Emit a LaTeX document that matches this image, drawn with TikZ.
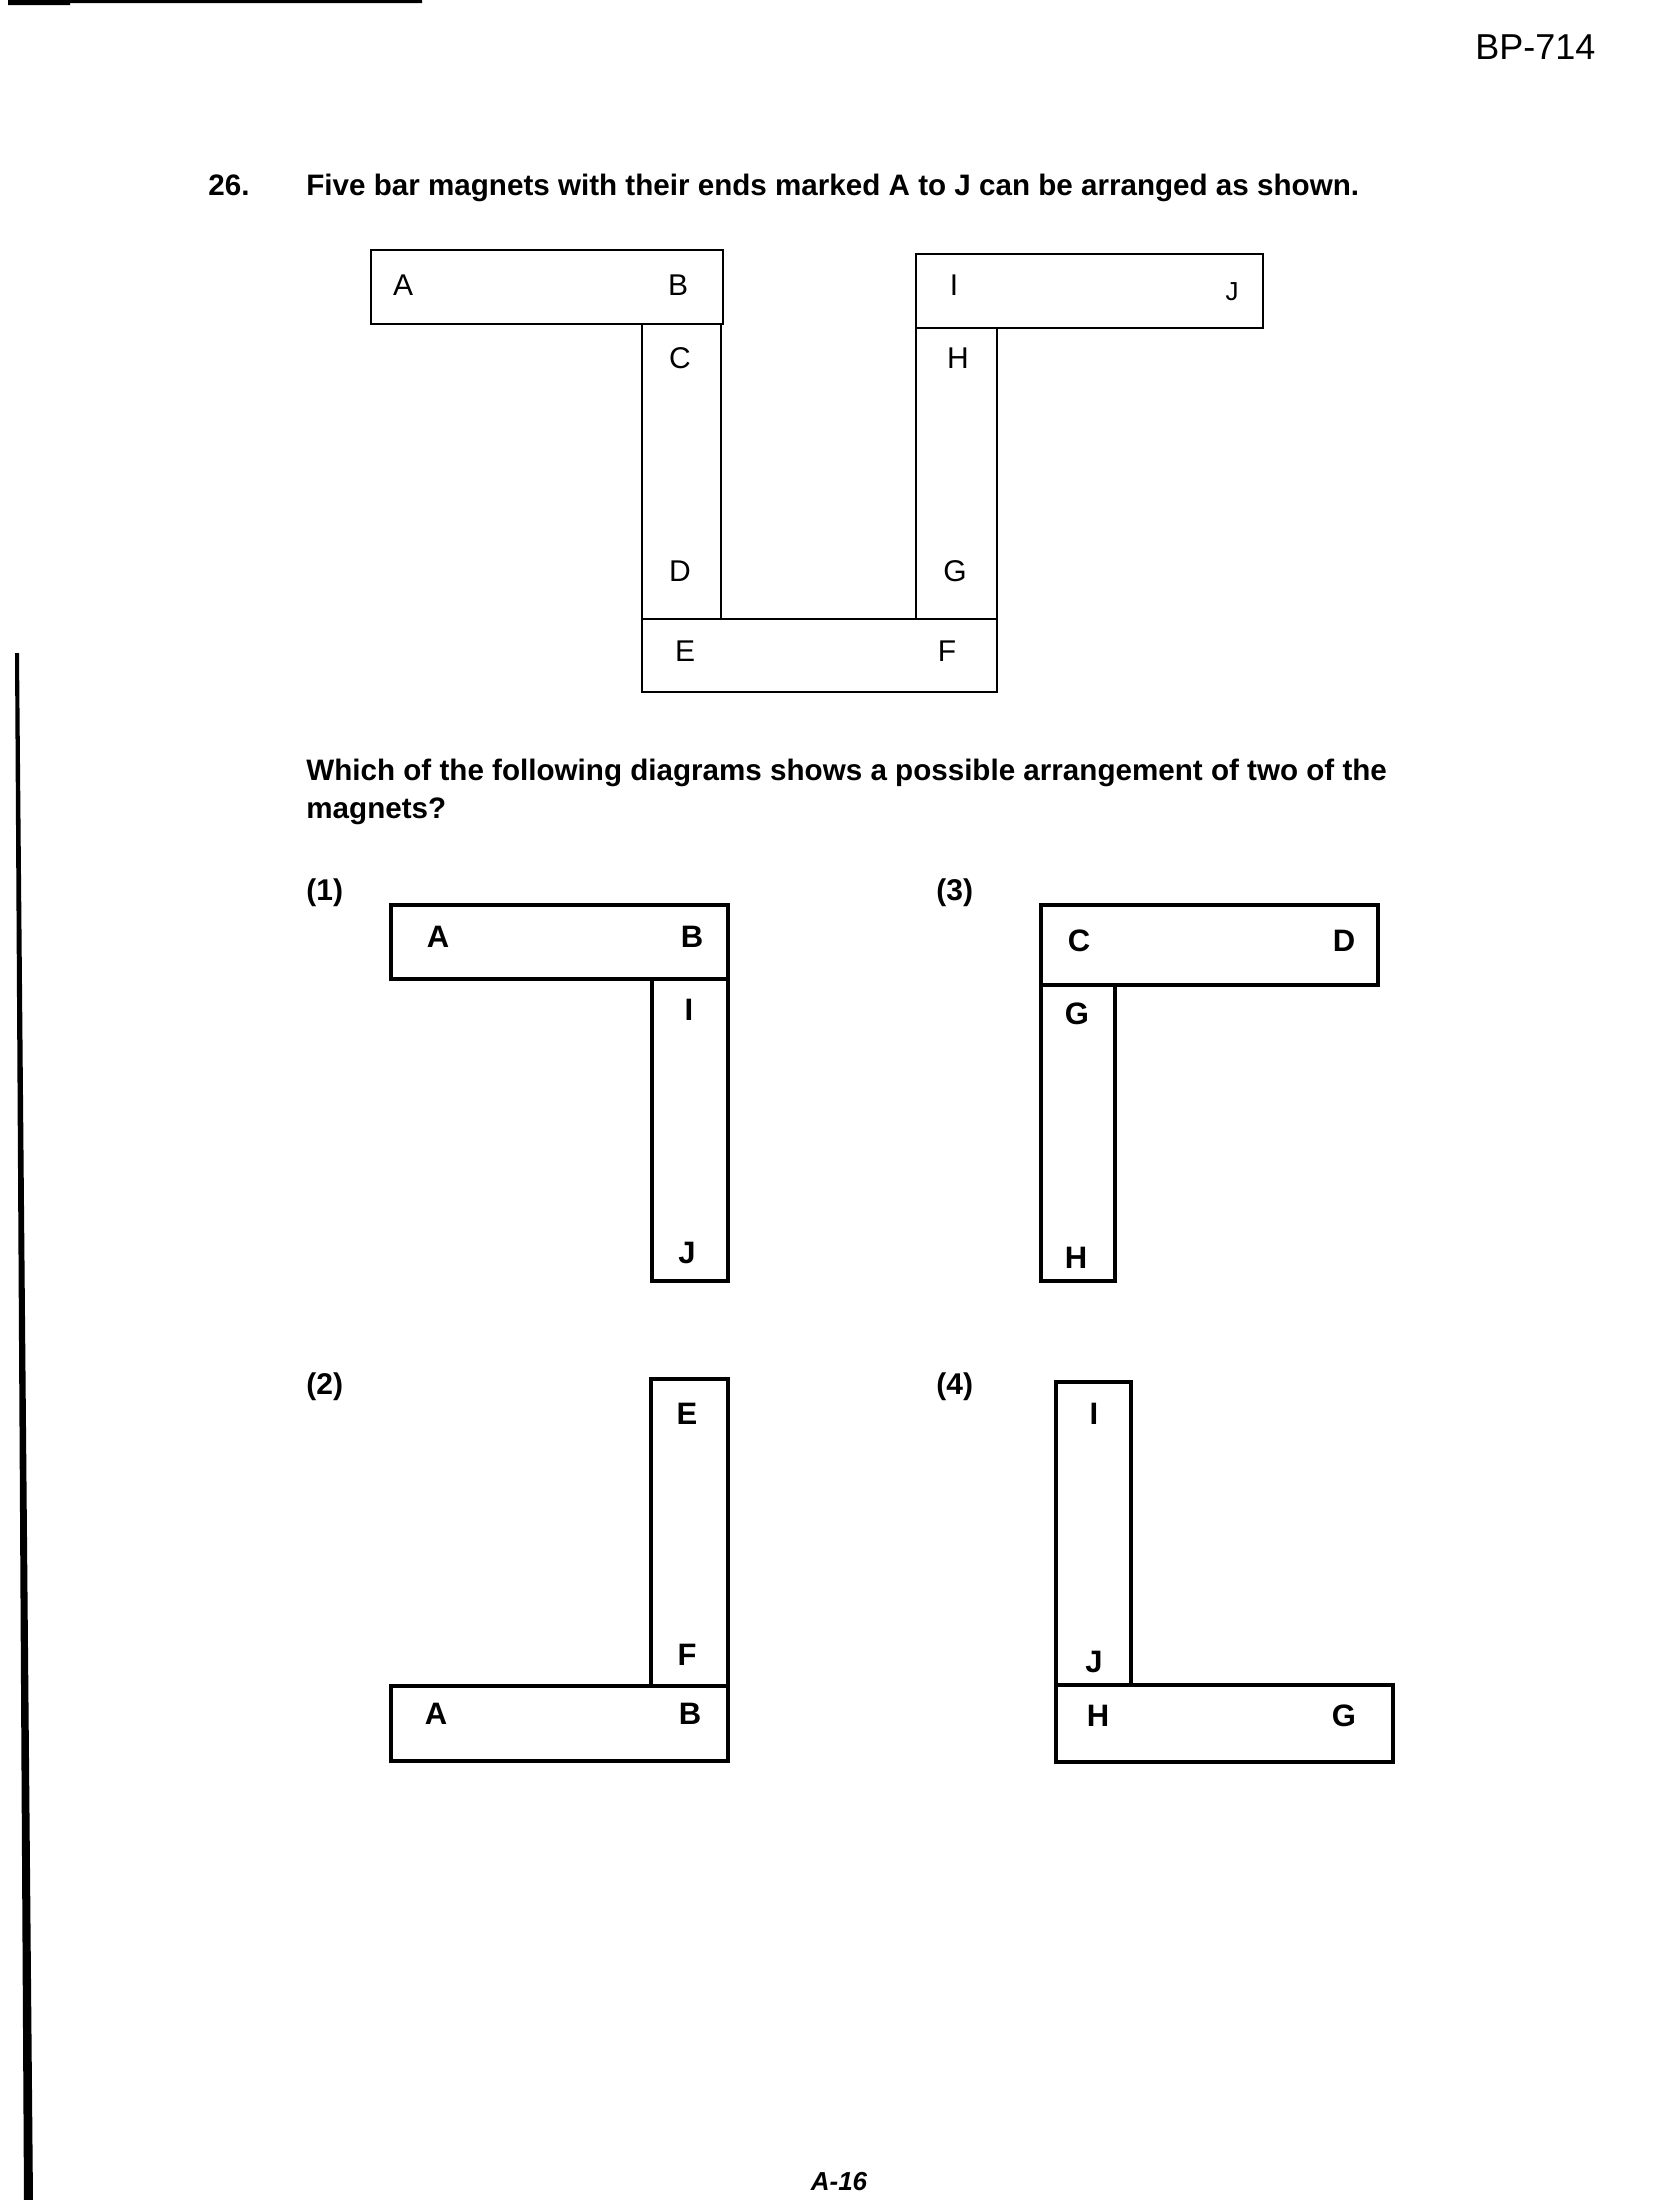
\documentclass[tikz,border=0pt]{standalone}
\usepackage{fontspec}
\setmainfont{Liberation Sans}
\begin{document}
\begin{tikzpicture}[x=0.5pt,y=-0.5pt,
  bar/.style={draw=black,line width=1.4pt},
  obar/.style={draw=black,line width=1.9pt},
  lbl/.style={inner sep=0pt,font=\fontsize{15}{18}\selectfont},
  olbl/.style={inner sep=0pt,font=\fontsize{15.5}{18}\selectfont\bfseries},
  qtext/.style={inner sep=0pt,anchor=base west,font=\fontsize{14.8}{17}\selectfont\bfseries},
  optnum/.style={inner sep=0pt,anchor=base west,font=\fontsize{15}{18}\selectfont\bfseries}]
\useasboundingbox (0,0) rectangle (1654,2200);
% scan edges
\fill[black] (8,0) -- (422,0) -- (422,3) -- (70,3) -- (70,5) -- (8,5) -- cycle;
\fill[black] (15,653) -- (19,653) -- (33,2200) -- (24,2200) -- cycle;
% header
\node[inner sep=0pt,anchor=base west,font=\fontsize{18}{21}\selectfont] (hdr) at (1475,59) {BP-714};
\node[qtext] (qnum) at (208,195) {26.};
\node[qtext] (q1) at (306,195) {Five bar magnets with their ends marked A to J can be arranged as shown.};
% main arrangement
\draw[bar] (371,250) rectangle (723,324);
\draw[bar] (642,324) rectangle (721,619);
\draw[bar] (642,619) rectangle (997,692);
\draw[bar] (916,328) rectangle (997,619);
\draw[bar] (916,254) rectangle (1263,328);
\node[lbl] (mA) at (403,285) {A};
\node[lbl] (mB) at (678,285) {B};
\node[lbl] (mI) at (954,285) {I};
\node[lbl,font=\fontsize{13}{15}\selectfont] (mJ) at (1232,292) {J};
\node[lbl] (mC) at (680,358) {C};
\node[lbl] (mH) at (958,358) {H};
\node[lbl] (mD) at (680,571) {D};
\node[lbl] (mG) at (955,571) {G};
\node[lbl] (mE) at (685,651) {E};
\node[lbl] (mF) at (947,651) {F};
% question
\node[qtext] (q2) at (306,780) {Which of the following diagrams shows a possible arrangement of two of the};
\node[qtext] (q3) at (306,818) {magnets?};
% option numbers
\node[optnum] (o1) at (306,900) {(1)};
\node[optnum] (o3) at (936,900) {(3)};
\node[optnum] (o2) at (306,1394) {(2)};
\node[optnum] (o4) at (936,1394) {(4)};
% option 1
\draw[obar] (391,905) rectangle (728,979);
\draw[obar] (652,979) rectangle (728,1281);
\node[olbl] (a1) at (438,937) {A};
\node[olbl] (b1) at (692,937) {B};
\node[olbl] (i1) at (689,1010) {I};
\node[olbl] (j1) at (687,1253) {J};
% option 3
\draw[obar] (1041,905) rectangle (1378,985);
\draw[obar] (1041,985) rectangle (1115,1281);
\node[olbl] (c3) at (1079,941) {C};
\node[olbl] (d3) at (1344,941) {D};
\node[olbl] (g3) at (1077,1014) {G};
\node[olbl] (h3) at (1076,1258) {H};
% option 2
\draw[obar] (651,1379) rectangle (728,1686);
\draw[obar] (391,1686) rectangle (728,1761);
\node[olbl] (e2) at (687,1414) {E};
\node[olbl] (f2) at (687,1655) {F};
\node[olbl] (a2) at (436,1714) {A};
\node[olbl] (b2) at (690,1714) {B};
% option 4
\draw[obar] (1056,1382) rectangle (1131,1685);
\draw[obar] (1056,1685) rectangle (1393,1762);
\node[olbl] (i4) at (1094,1414) {I};
\node[olbl] (j4) at (1094,1662) {J};
\node[olbl] (h4) at (1098,1716) {H};
\node[olbl] (g4) at (1344,1716) {G};
% footer
\node[inner sep=0pt,anchor=base,font=\fontsize{13}{15}\selectfont\bfseries\itshape] (ftr) at (839,2190) {A-16};
\end{tikzpicture}
\end{document}
